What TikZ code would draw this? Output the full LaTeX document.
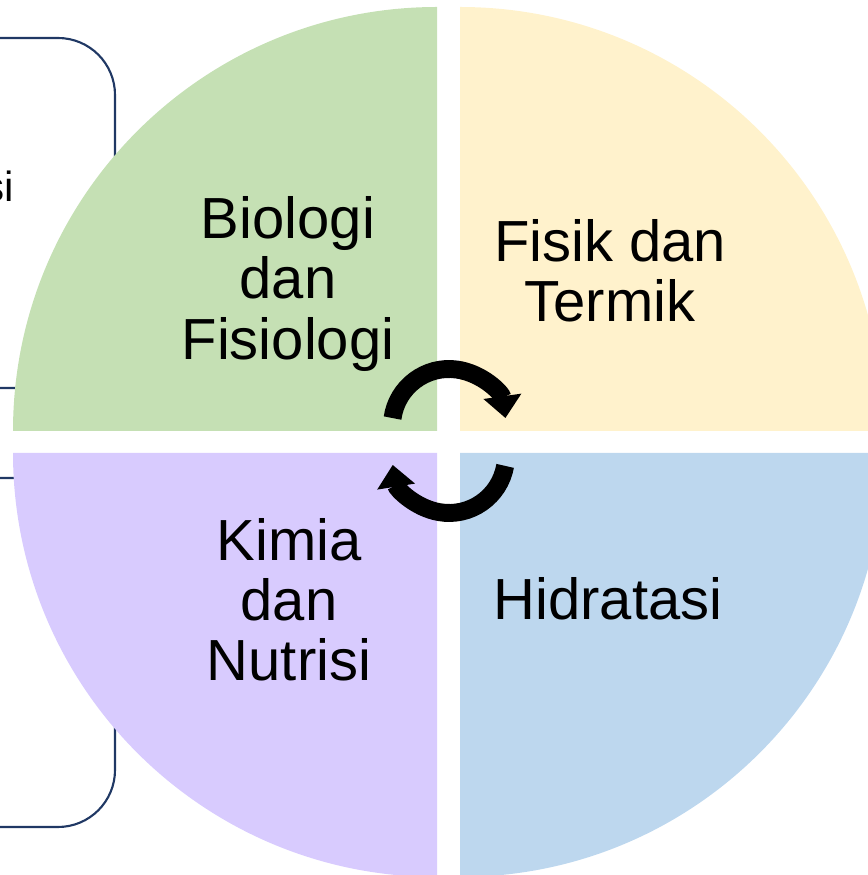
\documentclass[tikz,border=0pt]{standalone}
\usepackage{fontspec}
\setmainfont{Liberation Sans}
\usetikzlibrary{arrows.meta}
\definecolor{biogreen}{HTML}{C5E0B4}
\definecolor{fisyellow}{HTML}{FFF2CC}
\definecolor{hidblue}{HTML}{BDD7EE}
\definecolor{kimpurple}{HTML}{D8CBFE}
\definecolor{boxnavy}{HTML}{203864}
\begin{document}
\begin{tikzpicture}[x=0.02cm, y=0.02cm,
		quad_text/.style={align=center, inner sep=0pt, text=black, font=\fontsize{33}{34.3}\selectfont},
		side_text/.style={inner sep=0pt, text=black, font=\fontsize{24}{28}\selectfont},
		box_style/.style={draw=boxnavy, line width=1.2pt, rounded corners=1.14cm},
		cycle_arrow/.style={draw=black, line width=10.2pt, -{Triangle[width=21pt, length=12.5pt]}}]

		\clip (0,0) rectangle (868,875);
		\useasboundingbox (0,0) rectangle (868,875);

		\draw[box_style] (-200,487) rectangle (115,837);
		\draw[box_style] (-200,48) rectangle (115,397);
		\node[side_text, anchor=base east] (n_side) at (14,673) {si};

		\fill[biogreen]  (437,444) -- ++(-424,0) arc[start angle=180, end angle=90, radius=424] -- cycle;
		\fill[fisyellow] (460,444) -- ++(0,424) arc[start angle=90, end angle=0, radius=424] -- cycle;
		\fill[hidblue]   (460,422) -- ++(424,0) arc[start angle=0, end angle=-90, radius=424] -- cycle;
		\fill[kimpurple] (437,422) -- ++(0,-424) arc[start angle=270, end angle=180, radius=424] -- cycle;

		\node[quad_text] (n_bio) at (288,591) {Biologi\\dan\\Fisiologi};
		\node[quad_text] (n_fis) at (610,604) {Fisik dan\\Termik};
		\node[quad_text] (n_kim) at (289,275) {Kimia\\dan\\Nutrisi};
		\node[quad_text] (n_hid) at (608,276) {Hidratasi};

		\coordinate (cyc_top) at (449,449);
		\coordinate (cyc_bot) at (449,419);
		\draw[cycle_arrow] (cyc_top) ++(172:57) arc[start angle=172, end angle=8, radius=57];
		\draw[cycle_arrow] (cyc_bot) ++(-10:57) arc[start angle=-10, end angle=-171, radius=57];
\end{tikzpicture}
\end{document}
